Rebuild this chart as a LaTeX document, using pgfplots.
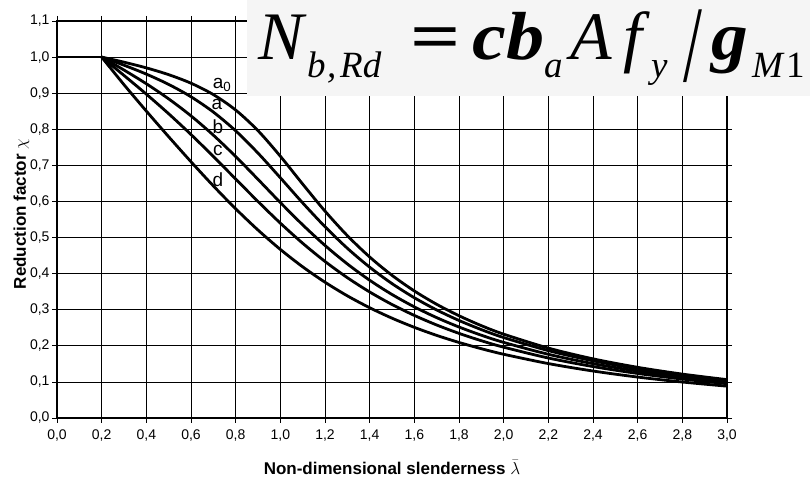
\documentclass[border=0pt]{standalone}
\usepackage{graphicx}
\usepackage{pgfplots}
\usepackage{pgfplotstable}
\pgfplotsset{compat=1.18}
\usepackage{fontspec}
\setmainfont{Liberation Sans}
\newfontfamily\tnr{Liberation Serif}
\definecolor{boxgray}{RGB}{245,245,245}

\pgfplotstableread{
x    a0     a      b      c      d
0.2  1.0000 1.0000 1.0000 1.0000 1.0000
0.3  0.9859 0.9775 0.9641 0.9491 0.9235
0.4  0.9701 0.9528 0.9261 0.8973 0.8504
0.5  0.9513 0.9243 0.8842 0.8430 0.7793
0.6  0.9276 0.8900 0.8371 0.7854 0.7100
0.7  0.8961 0.8477 0.7837 0.7247 0.6431
0.8  0.8533 0.7957 0.7245 0.6622 0.5797
0.9  0.7961 0.7339 0.6612 0.5998 0.5208
1.0  0.7253 0.6656 0.5970 0.5399 0.4671
1.1  0.6482 0.5960 0.5352 0.4842 0.4189
1.2  0.5732 0.5300 0.4781 0.4338 0.3762
1.3  0.5053 0.4703 0.4269 0.3888 0.3385
1.4  0.4461 0.4179 0.3817 0.3492 0.3055
1.5  0.3953 0.3724 0.3422 0.3145 0.2766
1.6  0.3520 0.3332 0.3079 0.2842 0.2512
1.7  0.3150 0.2994 0.2781 0.2577 0.2289
1.8  0.2833 0.2702 0.2521 0.2345 0.2093
1.9  0.2559 0.2449 0.2294 0.2141 0.1920
2.0  0.2323 0.2229 0.2095 0.1962 0.1766
2.2  0.1937 0.1867 0.1765 0.1662 0.1508
2.4  0.1639 0.1585 0.1506 0.1425 0.1302
2.6  0.1404 0.1362 0.1299 0.1234 0.1134
2.8  0.1216 0.1182 0.1132 0.1079 0.0997
3.0  0.1063 0.1036 0.0994 0.0951 0.0882
}\curves

\newcommand{\mainf}{\tnr\fontsize{68}{68}\selectfont}
\newcommand{\boldf}{\tnr\fontsize{68}{68}\selectfont\bfseries\itshape}
\newcommand{\subf}{\tnr\fontsize{37}{37}\selectfont}

\begin{document}
\begin{tikzpicture}
\useasboundingbox (0,0) rectangle (810pt,476pt);
\begin{axis}[
  at={(57pt,58pt)}, anchor=south west,
  scale only axis, width=670pt, height=397pt,
  xmin=0, xmax=3, ymin=0, ymax=1.1,
  xtick={0,0.2,0.4,0.6,0.8,1.0,1.2,1.4,1.6,1.8,2.0,2.2,2.4,2.6,2.8,3.0},
  ytick={0,0.1,0.2,0.3,0.4,0.5,0.6,0.7,0.8,0.9,1.0,1.1},
  grid=major, major grid style={black, line width=0.7pt},
  axis line style={line width=1.4pt},
  tick align=outside, major tick length=5pt,
  tick style={black, line width=0.7pt},
  /pgf/number format/use comma,
  /pgf/number format/fixed,
  /pgf/number format/fixed zerofill,
  /pgf/number format/precision=1,
  /pgf/number format/assume math mode=true,
  ticklabel style={font=\fontsize{14}{14}\selectfont},
  xticklabel style={yshift=-3pt},
  yticklabel style={xshift=1pt},
  xlabel={\textbf{Non-dimensional slenderness} $\bar{\lambda}$},
  ylabel={\textbf{Reduction factor} $\chi$},
  label style={font=\fontsize{17}{17}\selectfont},
  xlabel style={at={(axis description cs:0.5,0)}, anchor=base, yshift=-56pt},
  ylabel style={at={(axis description cs:-0.0463,0.514)}, anchor=base},
]
\addplot[black, line width=2.8pt] coordinates {(0,1) (0.2,1)};
\addplot[black, line width=2.8pt, smooth] table[x=x, y=a0] {\curves};
\addplot[black, line width=2.8pt, smooth] table[x=x, y=a] {\curves};
\addplot[black, line width=2.8pt, smooth] table[x=x, y=b] {\curves};
\addplot[black, line width=2.8pt, smooth] table[x=x, y=c] {\curves};
\addplot[black, line width=2.8pt, smooth] table[x=x, y=d] {\curves};
\begin{scope}[every node/.style={font=\fontsize{19}{19}\selectfont, inner sep=0pt}]
\node at (axis cs:0.739,0.922) {a\textsubscript{0}};
\node at (axis cs:0.716,0.870) {a};
\node at (axis cs:0.720,0.808) {b};
\node at (axis cs:0.720,0.740) {c};
\node at (axis cs:0.720,0.661) {d};
\end{scope}
\end{axis}
\fill[boxgray] (247pt,380pt) rectangle (810pt,476pt);
\begin{scope}[every node/.style={anchor=base west, inner sep=0pt}]
\node[font=\mainf\itshape] at (258pt,416pt) {N};
\node[font=\subf\itshape] at (307pt,398pt) {b};
\node[font=\subf\itshape] at (327pt,398pt) {,};
\node[font=\subf\itshape] at (340pt,398pt) {Rd};
\node[font=\mainf\bfseries] at (410pt,416pt) {\scalebox{1.3}[1]{=}};
\node[font=\boldf] at (472pt,416pt) {\scalebox{1.12}[1]{cb}};
\node[font=\subf\itshape] at (544pt,398pt) {a};
\node[font=\mainf\itshape] at (570pt,416pt) {A};
\node[font=\mainf\itshape] at (623pt,416pt) {f};
\node[font=\subf\itshape] at (651pt,398pt) {y};
\node[font=\mainf] at (683pt,394pt) {\scalebox{1}[1.6]{/}};
\node[font=\boldf] at (711pt,416pt) {\scalebox{1.08}[1]{g}};
\node[font=\subf\itshape] at (752pt,398pt) {M};
\node[font=\subf] at (786pt,398pt) {1};
\end{scope}
\end{tikzpicture}
\end{document}
